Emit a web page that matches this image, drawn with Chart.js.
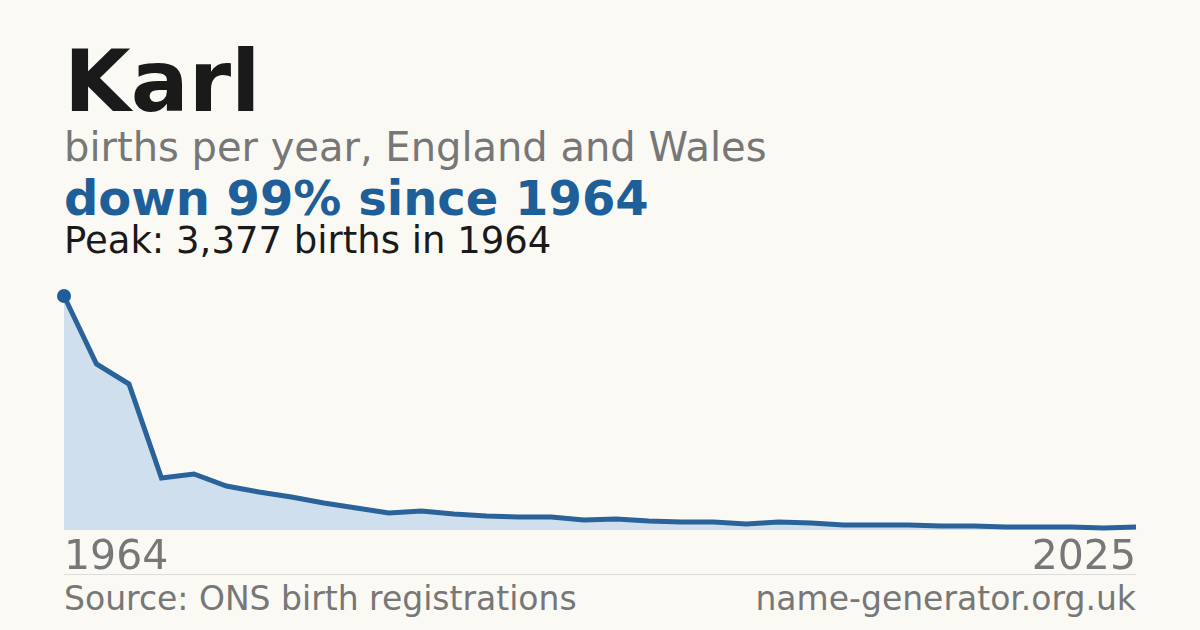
<!DOCTYPE html>
<html><head><meta charset="utf-8">
<script src="https://cdn.jsdelivr.net/npm/chart.js@4/dist/chart.umd.min.js"></script>
<style>
body{margin:0;width:1200px;height:630px;background:#faf9f4;font-family:"DejaVu Sans",sans-serif;position:relative;overflow:hidden}
.t{position:absolute;left:64px;white-space:nowrap}
</style></head><body>
<div class="t" style="top:38px;font-size:86px;font-weight:bold;color:#1a1a1a;line-height:1">Karl</div>
<div class="t" style="top:125px;font-size:40px;color:#777;line-height:1.1">births per year, England and Wales</div>
<div class="t" style="top:172px;font-size:48px;font-weight:bold;color:#1f5f99;line-height:1.1">down 99% since 1964</div>
<div class="t" style="top:221px;font-size:37px;color:#1a1a1a;line-height:1.1">Peak: 3,377 births in 1964</div>
<div style="position:absolute;left:54px;top:286px;width:1092px;height:254px"><canvas id="c"></canvas></div>
<div class="t" style="top:533px;font-size:41px;color:#777;line-height:1.1">1964</div>
<div style="position:absolute;right:64px;top:533px;font-size:41px;color:#777;line-height:1.1">2025</div>
<div style="position:absolute;left:64px;width:1072px;top:574px;border-top:1px solid #ddd"></div>
<div class="t" style="top:581px;font-size:33px;color:#777;line-height:1.1">Source: ONS birth registrations</div>
<div style="position:absolute;right:64px;top:581px;font-size:33px;color:#777;line-height:1.1">name-generator.org.uk</div>
<script>
const labels = Array.from({length:34},(_, i)=> i===0 ? "1964" : (i===33 ? "2025" : String(i)));
const births = [3377,2396,2107,750,808,635,548,476,390,317,245,274,231,202,188,188,144,159,130,115,115,87,115,101,72,72,72,58,58,43,43,43,29,43];
new Chart(document.getElementById('c'),{
 type:'line',
 data:{labels:labels,datasets:[{data:births,borderColor:'#2a6399',borderWidth:5,backgroundColor:'#d0dfee',fill:'origin',tension:0,
  pointRadius:births.map((v,i)=>i===0?7:0),pointBackgroundColor:'#1f5f99',pointBorderColor:'#faf9f4',pointBorderWidth:0,clip:false}]},
 options:{responsive:true,maintainAspectRatio:false,animation:false,layout:{padding:10},
  plugins:{legend:{display:false},tooltip:{enabled:false}},
  scales:{x:{display:false,offset:false},y:{display:false,min:0,max:3377}}}
});
</script>
</body></html>
